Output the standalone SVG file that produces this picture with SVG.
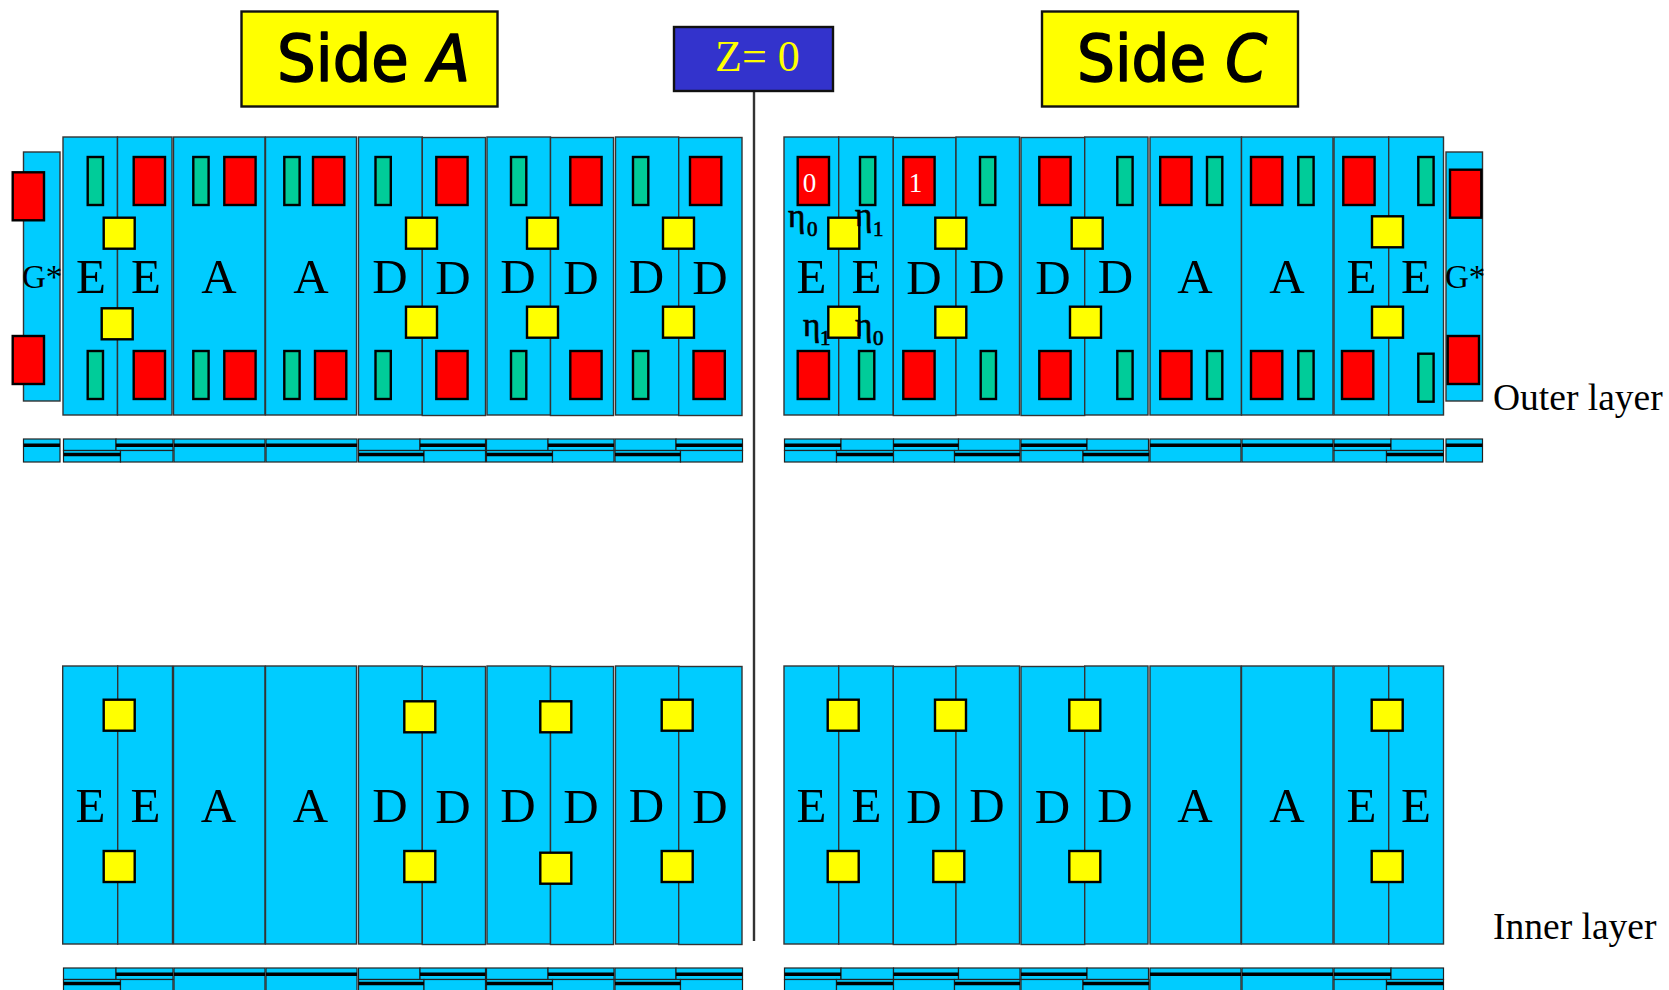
<svg xmlns="http://www.w3.org/2000/svg" xmlns:xlink="http://www.w3.org/1999/xlink" width="1669" height="990" viewBox="0 0 1669 990">
<style>
.m{fill:#00ccff;stroke:#333;stroke-width:1.4}
.s{fill:#00ccff;stroke:#222;stroke-width:1.2}
.b{stroke:#000;stroke-width:3.4}
.r{fill:#ff0000;stroke:#000;stroke-width:2.4;width:31.3px;height:48px}
.g{fill:#00cc99;stroke:#000;stroke-width:2.4;width:15.3px;height:48px}
.y{fill:#ffff00;stroke:#000;stroke-width:2.4;width:31px;height:31px}
.t{font-family:"Liberation Serif",serif;fill:#000}
.L{font-size:49px;text-anchor:middle}
.G{font-size:33px}
.e{font-size:33px;stroke:#000;stroke-width:.7}
.u{font-size:21px}
.w{font-size:27px;fill:#fff;text-anchor:middle}
.c{font-family:"DejaVu Sans",sans-serif;font-size:64px;fill:#000;stroke:#000;stroke-width:1.6;stroke-linejoin:round}
.o{font-style:oblique}
.h{fill:#ffff00;stroke:#111;stroke-width:2.4}
</style>
<rect width="1669" height="990" fill="#fff"/>
<g id="connectors"><line x1="754" y1="91" x2="754" y2="941" stroke="#333" stroke-width="2.4"/></g>
<g id="side-a"><rect class="h" x="241.500" y="11.500" width="256" height="95"/><text class="c" x="277" y="81" textLength="193" lengthAdjust="spacingAndGlyphs">Side <tspan class="o">A</tspan></text></g>
<g id="side-c"><rect class="h" x="1042" y="11.500" width="256" height="95"/><text class="c" x="1077" y="81" textLength="190" lengthAdjust="spacingAndGlyphs">Side <tspan class="o">C</tspan></text></g>
<g id="z0"><rect x="674" y="27" width="159" height="64" fill="#3333cc" stroke="#111" stroke-width="2.400"/><text class="t" x="715" y="71" font-size="44" style="fill:#ffff00">Z= 0</text></g>

<g id="outer-a-g"><rect class="m" x="23.500" y="152" width="36.500" height="249"/><rect class="r" x="12.700" y="172.300"/><rect class="r" x="12.700" y="336"/><text class="t G" x="22" y="288">G*</text></g>
<g id="outer-a-ee"><rect class="m" x="63" y="137" width="54.500" height="278"/><rect class="m" x="117.500" y="137" width="54.500" height="278"/>
<rect class="g" x="87.700" y="157"/><rect class="r" x="133.700" y="157"/><rect class="g" x="87.700" y="351"/><rect class="r" x="133.700" y="351"/>
<rect class="y" x="103.700" y="217.700"/><rect class="y" x="101.700" y="308.300"/>
<text class="t L" x="91" y="293">E</text><text class="t L" x="146" y="293">E</text></g>
<g id="outer-a-a1"><rect class="m" x="173.500" y="137" width="91.500" height="278"/><rect class="g" x="193.300" y="157"/><rect class="r" x="224.300" y="157"/><rect class="g" x="193.300" y="351"/><rect class="r" x="224.300" y="351"/><text class="t L" x="219" y="293">A</text></g>
<g id="outer-a-a2"><rect class="m" x="265.500" y="137" width="91" height="278"/><rect class="g" x="284.300" y="157"/><rect class="r" x="313" y="157"/><rect class="g" x="284.300" y="351"/><rect class="r" x="315" y="351"/><text class="t L" x="311" y="293">A</text></g>
<g id="outer-a-dd1"><rect class="m" x="358.500" y="137" width="63.800" height="278"/><rect class="m" x="422.300" y="137.500" width="63.200" height="278"/>
<rect class="g" x="375.500" y="157"/><rect class="r" x="436.300" y="157"/><rect class="g" x="375.500" y="351"/><rect class="r" x="436.300" y="351"/>
<rect class="y" x="406" y="217.700"/><rect class="y" x="406" y="306.700"/>
<text class="t L" x="390" y="293">D</text><text class="t L" x="453" y="294">D</text></g>
<g id="outer-a-dd2"><rect class="m" x="487" y="137" width="63.500" height="278"/><rect class="m" x="550.500" y="137.500" width="63" height="278"/>
<rect class="g" x="511" y="157"/><rect class="r" x="570.300" y="157"/><rect class="g" x="511" y="351"/><rect class="r" x="570.300" y="351"/>
<rect class="y" x="527" y="217.700"/><rect class="y" x="527" y="306.700"/>
<text class="t L" x="518" y="293">D</text><text class="t L" x="581" y="294">D</text></g>
<g id="outer-a-dd3"><rect class="m" x="615.500" y="137" width="63.200" height="278"/><rect class="m" x="678.700" y="137.500" width="63.300" height="278"/>
<rect class="g" x="633" y="157"/><rect class="r" x="690" y="157"/><rect class="g" x="633" y="351"/><rect class="r" x="693.500" y="351"/>
<rect class="y" x="663" y="217.700"/><rect class="y" x="663" y="306.700"/>
<text class="t L" x="646.500" y="293">D</text><text class="t L" x="710" y="294">D</text></g>

<g id="outer-c-ee"><rect class="m" x="784" y="137" width="54.700" height="278"/><rect class="m" x="838.700" y="137" width="54.600" height="278"/>
<rect class="r" x="797.700" y="157"/><rect class="g" x="860" y="157"/><rect class="r" x="797.700" y="351"/><rect class="g" x="859" y="351"/>
<rect class="y" x="828.300" y="217.700"/><rect class="y" x="828.300" y="306.700"/>
<text class="t w" x="809.500" y="192">0</text>
<text class="t L" x="811.500" y="293">E</text><text class="t L" x="866.500" y="293">E</text>
<text class="t e" x="788" y="227">η<tspan class="u" x="807" y="236">0</tspan></text>
<text class="t e" x="855" y="226">η<tspan class="u" x="873" y="236">1</tspan></text>
<text class="t e" x="803" y="336">η<tspan class="u" x="820" y="345">1</tspan></text>
<text class="t e" x="855" y="336">η<tspan class="u" x="873" y="345">0</tspan></text></g>
<g id="outer-c-dd1"><rect class="m" x="893.300" y="137.500" width="62.700" height="278"/><rect class="m" x="956" y="137" width="63.500" height="278"/>
<rect class="r" x="903.300" y="157"/><rect class="g" x="980" y="157"/><rect class="r" x="903.300" y="351"/><rect class="g" x="980.700" y="351"/>
<rect class="y" x="935.300" y="217.700"/><rect class="y" x="935.300" y="306.700"/>
<text class="t w" x="915.500" y="192">1</text>
<text class="t L" x="924" y="294">D</text><text class="t L" x="987" y="293">D</text></g>
<g id="outer-c-dd2"><rect class="m" x="1021" y="137.500" width="63.700" height="278"/><rect class="m" x="1084.700" y="137" width="63.300" height="278"/>
<rect class="r" x="1039.300" y="157"/><rect class="g" x="1117.300" y="157"/><rect class="r" x="1039.300" y="351"/><rect class="g" x="1117.300" y="351"/>
<rect class="y" x="1071.700" y="217.700"/><rect class="y" x="1070" y="306.700"/>
<text class="t L" x="1053" y="294">D</text><text class="t L" x="1115.500" y="293">D</text></g>
<g id="outer-c-a1"><rect class="m" x="1150" y="137" width="91.500" height="278"/><rect class="r" x="1160.200" y="157"/><rect class="g" x="1207" y="157"/><rect class="r" x="1160.200" y="351"/><rect class="g" x="1207" y="351"/><text class="t L" x="1195" y="293">A</text></g>
<g id="outer-c-a2"><rect class="m" x="1241.500" y="137" width="91.500" height="278"/><rect class="r" x="1251" y="157"/><rect class="g" x="1298.300" y="157"/><rect class="r" x="1251" y="351"/><rect class="g" x="1298.300" y="351"/><text class="t L" x="1287" y="293">A</text></g>
<g id="outer-c-ee2"><rect class="m" x="1334" y="137" width="54.700" height="278"/><rect class="m" x="1388.700" y="137" width="54.800" height="278"/>
<rect class="r" x="1343.300" y="157"/><rect class="g" x="1418.300" y="157"/><rect class="r" x="1342" y="351"/><rect class="g" x="1418.300" y="353.700"/>
<rect class="y" x="1372" y="216.300"/><rect class="y" x="1372" y="306.700"/>
<text class="t L" x="1361.500" y="293">E</text><text class="t L" x="1416" y="293">E</text></g>
<g id="outer-c-g"><rect class="m" x="1446" y="152" width="36.500" height="249"/><rect class="r" x="1450" y="169.700"/><rect class="r" x="1447.700" y="336"/><text class="t G" x="1445" y="288">G*</text></g>

<g id="outer-a-g-strip"><rect class="s" x="23.500" y="439" width="36.500" height="23"/><line class="b" x1="23.500" y1="445.200" x2="60" y2="445.200"/></g>
<g id="outer-c-g-strip"><rect class="s" x="1446" y="439" width="36.500" height="23"/><line class="b" x1="1446" y1="445.200" x2="1482.500" y2="445.200"/></g>
<defs>
<g id="strips">
<g><rect class="s" x="63.500" y="439" width="52.500" height="11.500"/><rect class="s" x="116" y="439" width="57" height="11.500"/><rect class="s" x="63.500" y="450.500" width="57" height="11.500"/><rect class="s" x="120.500" y="450.500" width="52.500" height="11.500"/><line class="b" x1="116" y1="445.200" x2="173" y2="445.200"/><line class="b" x1="63.500" y1="454.500" x2="120.500" y2="454.500"/></g>
<g><rect class="s" x="174" y="439" width="91" height="23"/><line class="b" x1="174" y1="445.200" x2="265" y2="445.200"/></g>
<g><rect class="s" x="266" y="439" width="91" height="23"/><line class="b" x1="266" y1="445.200" x2="357" y2="445.200"/></g>
<g><rect class="s" x="358.500" y="439" width="61.500" height="11.500"/><rect class="s" x="420" y="439" width="65.500" height="11.500"/><rect class="s" x="358.500" y="450.500" width="65.500" height="11.500"/><rect class="s" x="424" y="450.500" width="61.500" height="11.500"/><line class="b" x1="420" y1="445.200" x2="485.500" y2="445.200"/><line class="b" x1="358.500" y1="454.500" x2="424" y2="454.500"/></g>
<g><rect class="s" x="486.500" y="439" width="61.500" height="11.500"/><rect class="s" x="548" y="439" width="66" height="11.500"/><rect class="s" x="486.500" y="450.500" width="66" height="11.500"/><rect class="s" x="552.500" y="450.500" width="61.500" height="11.500"/><line class="b" x1="548" y1="445.200" x2="614" y2="445.200"/><line class="b" x1="486.500" y1="454.500" x2="552.500" y2="454.500"/></g>
<g><rect class="s" x="615" y="439" width="61" height="11.500"/><rect class="s" x="676" y="439" width="66.500" height="11.500"/><rect class="s" x="615" y="450.500" width="65.500" height="11.500"/><rect class="s" x="680.500" y="450.500" width="62" height="11.500"/><line class="b" x1="676" y1="445.200" x2="742.500" y2="445.200"/><line class="b" x1="615" y1="454.500" x2="680.500" y2="454.500"/></g>
<g><rect class="s" x="784.500" y="439" width="56.500" height="11.500"/><rect class="s" x="841" y="439" width="52.500" height="11.500"/><rect class="s" x="784.500" y="450.500" width="52" height="11.500"/><rect class="s" x="836.500" y="450.500" width="57" height="11.500"/><line class="b" x1="784.500" y1="445.200" x2="841" y2="445.200"/><line class="b" x1="836.500" y1="454.500" x2="893.500" y2="454.500"/></g>
<g><rect class="s" x="893.500" y="439" width="65" height="11.500"/><rect class="s" x="958.500" y="439" width="61.500" height="11.500"/><rect class="s" x="893.500" y="450.500" width="61" height="11.500"/><rect class="s" x="954.500" y="450.500" width="65.500" height="11.500"/><line class="b" x1="893.500" y1="445.200" x2="958.500" y2="445.200"/><line class="b" x1="954.500" y1="454.500" x2="1020" y2="454.500"/></g>
<g><rect class="s" x="1021" y="439" width="66" height="11.500"/><rect class="s" x="1087" y="439" width="61.500" height="11.500"/><rect class="s" x="1021" y="450.500" width="62" height="11.500"/><rect class="s" x="1083" y="450.500" width="66" height="11.500"/><line class="b" x1="1021" y1="445.200" x2="1087" y2="445.200"/><line class="b" x1="1083" y1="454.500" x2="1149" y2="454.500"/></g>
<g><rect class="s" x="1150" y="439" width="91" height="23"/><line class="b" x1="1150" y1="445.200" x2="1241" y2="445.200"/></g>
<g><rect class="s" x="1242" y="439" width="91" height="23"/><line class="b" x1="1242" y1="445.200" x2="1333" y2="445.200"/></g>
<g><rect class="s" x="1334" y="439" width="57" height="11.500"/><rect class="s" x="1391" y="439" width="52.500" height="11.500"/><rect class="s" x="1334" y="450.500" width="52.500" height="11.500"/><rect class="s" x="1386.500" y="450.500" width="57" height="11.500"/><line class="b" x1="1334" y1="445.200" x2="1391" y2="445.200"/><line class="b" x1="1386.500" y1="454.500" x2="1443.500" y2="454.500"/></g>
</g>
</defs>
<use id="outer-strips" href="#strips"/>
<use id="inner-strips" href="#strips" y="529"/>

<g id="inner-a-ee"><rect class="m" x="62.700" y="666" width="55" height="278"/><rect class="m" x="117.700" y="666" width="54.800" height="278"/><rect class="y" x="103.700" y="699.700"/><rect class="y" x="103.700" y="851"/><text class="t L" x="90.500" y="822">E</text><text class="t L" x="145.500" y="822">E</text></g>
<g id="inner-a-a1"><rect class="m" x="173.500" y="666" width="91.500" height="278"/><text class="t L" x="218.500" y="822">A</text></g>
<g id="inner-a-a2"><rect class="m" x="265.500" y="666" width="91" height="278"/><text class="t L" x="310.500" y="822">A</text></g>
<g id="inner-a-dd1"><rect class="m" x="358.500" y="666" width="63.800" height="278"/><rect class="m" x="422.300" y="666.500" width="63.200" height="278"/><rect class="y" x="404.300" y="701.300"/><rect class="y" x="404.300" y="851"/><text class="t L" x="390" y="822">D</text><text class="t L" x="453" y="823">D</text></g>
<g id="inner-a-dd2"><rect class="m" x="487" y="666" width="63.500" height="278"/><rect class="m" x="550.500" y="666.500" width="63" height="278"/><rect class="y" x="540.300" y="701.300"/><rect class="y" x="540.300" y="852.700"/><text class="t L" x="518" y="822">D</text><text class="t L" x="581" y="823">D</text></g>
<g id="inner-a-dd3"><rect class="m" x="615.500" y="666" width="63.200" height="278"/><rect class="m" x="678.700" y="666.500" width="63.300" height="278"/><rect class="y" x="661.700" y="699.700"/><rect class="y" x="661.700" y="851"/><text class="t L" x="646.500" y="822">D</text><text class="t L" x="710" y="823">D</text></g>

<g id="inner-c-ee"><rect class="m" x="784" y="666" width="54.700" height="278"/><rect class="m" x="838.700" y="666" width="54.600" height="278"/><rect class="y" x="827.700" y="699.700"/><rect class="y" x="827.700" y="851"/><text class="t L" x="811.500" y="822">E</text><text class="t L" x="866.500" y="822">E</text></g>
<g id="inner-c-dd1"><rect class="m" x="893.300" y="666.500" width="62.700" height="278"/><rect class="m" x="956" y="666" width="63.500" height="278"/><rect class="y" x="935" y="699.700"/><rect class="y" x="933.300" y="851"/><text class="t L" x="924" y="823">D</text><text class="t L" x="987" y="822">D</text></g>
<g id="inner-c-dd2"><rect class="m" x="1021" y="666.500" width="63.700" height="278"/><rect class="m" x="1084.700" y="666" width="63.300" height="278"/><rect class="y" x="1069.300" y="699.700"/><rect class="y" x="1069.300" y="851"/><text class="t L" x="1052.500" y="823">D</text><text class="t L" x="1115" y="822">D</text></g>
<g id="inner-c-a1"><rect class="m" x="1150" y="666" width="91" height="278"/><text class="t L" x="1195" y="822">A</text></g>
<g id="inner-c-a2"><rect class="m" x="1241.500" y="666" width="91.500" height="278"/><text class="t L" x="1287" y="822">A</text></g>
<g id="inner-c-ee2"><rect class="m" x="1334" y="666" width="54.700" height="278"/><rect class="m" x="1388.700" y="666" width="54.800" height="278"/><rect class="y" x="1371.700" y="699.700"/><rect class="y" x="1371.700" y="851"/><text class="t L" x="1361.500" y="822">E</text><text class="t L" x="1416" y="822">E</text></g>

<g id="labels"><text class="t" x="1493" y="409.500" font-size="37.500">Outer layer</text><text class="t" x="1493" y="938.500" font-size="37.500">Inner layer</text></g>
</svg>
